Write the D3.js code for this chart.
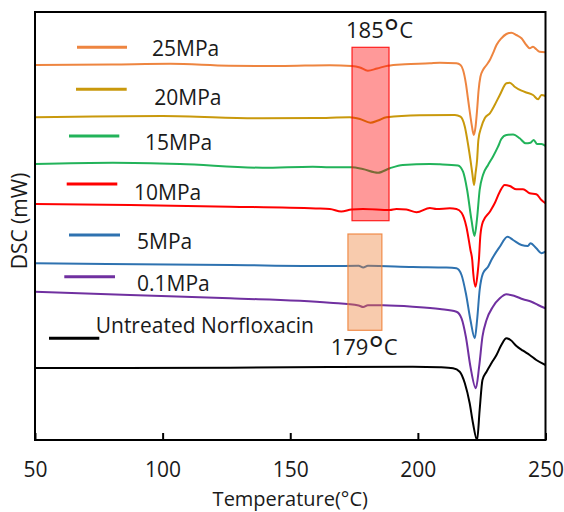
<!DOCTYPE html>
<html>
<head>
<meta charset="utf-8">
<script src="https://cdn.jsdelivr.net/npm/d3@7"></script>
<style>
html,body{margin:0;padding:0;background:#fff;}
text{font-family:"Open Sans",sans-serif;fill:#1a1a1a;}
</style>
</head>
<body>
<svg id="chart" width="564" height="512"></svg>
<script>
// ---------- data (Temperature °C, DSC arbitrary offset units) ----------
const temperatureTicks = [50, 100, 150, 200, 250];
const seriesNames = ["25MPa", "20MPa", "15MPa", "10MPa", "5MPa", "0.1MPa", "Untreated Norfloxacin"];

const dsc25MPa = [[50,37.50],[80,37.55],[103,37.62],[126,37.43],[146,37.40],[165.5,37.48],[174.1,37.40],[177.3,37.25],[180.4,36.93],[184,37.15],[188.2,37.43],[195,37.58],[204.7,37.67],[208.6,37.73],[215.1,37.67],[216.7,37.50],[217.7,37.00],[218.8,35.67],[219.7,34.00],[220.6,32.33],[221.2,31.33],[221.9,30.50],[222.6,31.33],[223.2,33.00],[223.8,35.00],[224.5,36.33],[225.5,37.00],[226.9,37.50],[228.2,38.00],[229.4,38.67],[230.8,39.50],[232.7,40.17],[234.7,40.60],[236.6,40.73],[238.6,40.50],[240.6,40.17],[242.5,39.50],[243.8,39.17],[245.1,39.33],[246.4,39.07],[247.7,38.83],[250,38.77]];

const dsc20MPa = [[50,32.27],[100,32.40],[139,32.17],[160,32.20],[173.3,32.27],[177.3,32.10],[181.4,31.73],[184.4,31.95],[187.7,32.27],[200.7,32.47],[214.5,32.50],[216.7,32.33],[218.4,31.33],[219.7,29.50],[220.6,28.00],[221.3,26.70],[222.0,25.50],[222.6,26.70],[223.2,28.00],[223.7,30.00],[224.9,31.33],[226.2,32.17],[228.2,32.67],[230.1,33.50],[232.1,34.50],[234.7,35.67],[236.0,35.73],[237.9,35.33],[240.6,34.93],[242.8,34.73],[245.1,34.50],[247.1,34.07],[248.4,34.50],[250,34.40]];

const dsc15MPa = [[50,27.60],[80.5,27.73],[106.8,27.60],[139.1,27.23],[158.8,27.33],[165.5,27.27],[174.1,27.27],[178.4,27.10],[184.4,26.73],[189.0,27.17],[194.1,27.50],[204.7,27.60],[208.6,27.57],[215.7,27.45],[217.7,26.83],[219.3,25.00],[221.0,22.00],[222.2,20.40],[223.2,22.20],[224.2,25.00],[225.5,26.50],[227.5,27.50],[229.4,28.33],[231.4,29.33],[232.7,30.10],[234.7,30.50],[237.3,30.55],[239.9,30.17],[242.2,29.67],[244.1,29.73],[245.4,30.00],[246.7,29.60],[248.4,29.60],[250,29.40]];

const dsc10MPa = [[50,23.60],[87.2,23.50],[126.4,23.33],[160,23.15],[165.5,23.10],[170,22.85],[174,23.05],[178.5,23.10],[189.0,23.00],[191.6,23.10],[195.5,23.05],[199.5,22.77],[204.7,23.20],[207.3,23.10],[212.5,23.17],[215.1,23.10],[217.1,22.73],[219.0,21.33],[220.6,19.00],[221.3,18.00],[221.7,16.67],[222.6,15.33],[223.4,16.67],[223.9,18.00],[224.5,20.50],[225.5,21.83],[228.2,22.83],[230.1,23.67],[232.1,24.83],[234.0,25.50],[236.0,25.40],[238.6,25.07],[241.2,25.07],[243.8,24.67],[246.4,24.57],[248.4,24.00],[250,23.67]];

const dsc5MPa = [[50,17.67],[126.4,17.50],[165.5,17.40],[176.8,17.42],[178.6,17.25],[180.4,17.42],[198.0,17.30],[211.2,17.25],[215.1,17.17],[217.1,16.50],[218.8,14.67],[220.6,12.00],[222.3,10.17],[223.2,12.00],[224.2,15.00],[225.5,16.67],[227.5,17.33],[228.8,18.00],[232.1,19.33],[235.1,20.33],[237.3,20.00],[240.6,19.50],[243.1,19.40],[244.1,19.67],[246.4,19.17],[248.4,18.67],[250,18.83]];

const dsc01MPa = [[50,14.83],[87.2,14.50],[126.4,14.17],[165.5,13.73],[176.8,13.45],[178.6,13.30],[180.4,13.48],[186.4,13.47],[198.0,13.33],[208.6,13.10],[215.1,12.83],[217.1,12.17],[218.8,10.33],[220.6,7.33],[222.7,5.17],[224.0,7.33],[225.3,10.33],[226.9,12.00],[229.4,13.33],[232.1,14.17],[234.7,14.57],[237.9,14.40],[241.2,14.07],[244.5,13.83],[247.1,13.50],[250,13.17]];

const dscUntreated = [[50,7.20],[126.4,7.23],[165.5,7.30],[198.0,7.33],[208.6,7.27],[213.8,7.17],[216.4,6.83],[218.4,5.67],[220.3,3.67],[221.6,1.67],[223.2,0.00],[224.2,3.00],[225.3,6.00],[226.9,6.83],[228.8,7.67],[230.8,8.50],[232.7,9.50],[234.7,10.17],[236.3,10.00],[238.6,9.40],[241.2,8.93],[243.8,8.50],[246.4,8.00],[250,7.50]];

const seriesValues = [dsc25MPa, dsc20MPa, dsc15MPa, dsc10MPa, dsc5MPa, dsc01MPa, dscUntreated];

// highlighted regions (temperature range, DSC range) and their labels
const highlightLabels = ["185°C", "179°C"];
const highlightTemps = [[174.2, 188.7], [172.6, 185.9]];
const highlightDsc = [[21.93, 39.27], [10.97, 20.6]];

// ---------- styles / layout ----------
const colors = ["#EE8540", "#C9990C", "#22B35A", "#FF0000", "#2E72B0", "#7030A0", "#000000"];
const boxColors = ["#FF0000", "#ED7D31"];
const legendLayout = [
  {x1: 77, x2: 127, ly: 47.3, tx: 152, ty: 56},
  {x1: 76, x2: 126.7, ly: 89.3, tx: 154.3, ty: 105},
  {x1: 69, x2: 119.3, ly: 136, tx: 145, ty: 150},
  {x1: 66.7, x2: 117.3, ly: 184, tx: 134, ty: 200},
  {x1: 69, x2: 120, ly: 235, tx: 137, ty: 249},
  {x1: 64.3, x2: 115, ly: 276.7, tx: 137, ty: 290.5},
  {x1: 49, x2: 99.3, ly: 338.3, tx: 95.7, ty: 333}
];
const labelLayout = [{x: 346, y: 38}, {x: 330.7, y: 355}];

const margin = {left: 35, right: 545.5, top: 12, bottom: 440};
const svg = d3.select("#chart");

const x = d3.scaleLinear().domain([50, 250]).range([margin.left, margin.right]);
const y = d3.scaleLinear().domain([0, 42.8]).range([margin.bottom, margin.top]);

// curves
const line = d3.line().x(d => x(d[0])).y(d => y(d[1])).curve(d3.curveMonotoneX);
svg.append("g").selectAll("path").data(seriesValues).join("path")
  .attr("d", line)
  .attr("fill", "none")
  .attr("stroke", (d, i) => colors[i])
  .attr("stroke-width", 2)
  .attr("stroke-linejoin", "round");

// highlight boxes (semi-transparent, over curves)
svg.append("g").selectAll("rect").data(highlightTemps).join("rect")
  .attr("x", d => x(d[0]))
  .attr("width", d => x(d[1]) - x(d[0]))
  .attr("y", (d, i) => y(highlightDsc[i][1]))
  .attr("height", (d, i) => y(highlightDsc[i][0]) - y(highlightDsc[i][1]))
  .attr("fill", (d, i) => boxColors[i])
  .attr("fill-opacity", 0.4)
  .attr("stroke", (d, i) => boxColors[i])
  .attr("stroke-opacity", 0.85)
  .attr("stroke-width", 1.2);

// labels 185°C / 179°C
highlightLabels.forEach((lab, i) => {
  const t = svg.append("text")
    .attr("x", labelLayout[i].x).attr("y", labelLayout[i].y)
    .attr("font-size", 22);
  const num = lab.replace("°C", "");
  t.append("tspan").text(num);
  t.append("tspan").text("°").attr("font-size", 36).attr("dy", 7);
  t.append("tspan").text("C").attr("font-size", 22).attr("dy", -7);
});

// frame
svg.append("rect")
  .attr("x", margin.left).attr("y", margin.top)
  .attr("width", margin.right - margin.left).attr("height", margin.bottom - margin.top)
  .attr("fill", "none").attr("stroke", "#000").attr("stroke-width", 2);

// x axis
const xAxis = d3.axisBottom(x).tickValues(temperatureTicks).tickSizeInner(-7).tickSizeOuter(0).tickPadding(22);
const gx = svg.append("g").attr("transform", `translate(0,${margin.bottom})`).call(xAxis);
gx.select(".domain").remove();
gx.selectAll(".tick line").attr("stroke", "#000").attr("stroke-width", 2);
gx.selectAll(".tick text").attr("font-size", 21).attr("font-family", "Open Sans").attr("fill", "#1a1a1a");

svg.append("text")
  .attr("x", (margin.left + margin.right) / 2).attr("y", 506)
  .attr("text-anchor", "middle").attr("font-size", 20)
  .text("Temperature(°C)");

svg.append("text")
  .attr("transform", "translate(26.5,221) rotate(-90)")
  .attr("text-anchor", "middle").attr("font-size", 21)
  .text("DSC (mW)");

// legend
const lg = svg.append("g");
seriesNames.forEach((name, i) => {
  const L = legendLayout[i];
  lg.append("line").attr("x1", L.x1).attr("x2", L.x2).attr("y1", L.ly).attr("y2", L.ly)
    .attr("stroke", colors[i]).attr("stroke-width", 3);
  lg.append("text").attr("x", L.tx).attr("y", L.ty).attr("font-size", 21).text(name);
});
</script>
</body>
</html>
